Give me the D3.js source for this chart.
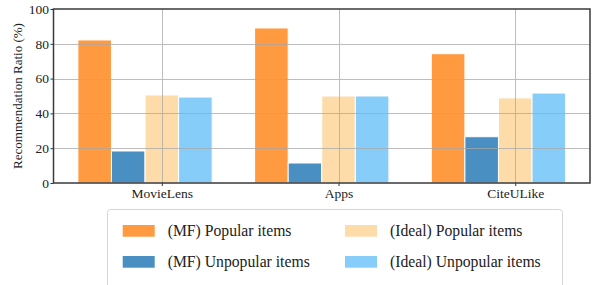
<!DOCTYPE html>
<html>
<head>
<meta charset="utf-8">
<script src="https://cdn.jsdelivr.net/npm/d3@7"></script>
<style>
  body { margin: 0; background: #fff; }
  svg { display: block; }
  svg text { font-family: 'Liberation Serif', serif; }
</style>
</head>
<body>
<div id="container"></div>
<script>
const categories = ['MovieLens', 'Apps', 'CiteULike'];
const seriesNames = ['(MF) Popular items', '(MF) Unpopular items', '(Ideal) Popular items', '(Ideal) Unpopular items'];
const mfPopular = [82.2, 89.1, 74.3];
const mfUnpopular = [18.4, 11.5, 26.6];
const idealPopular = [50.6, 50.0, 48.9];
const idealUnpopular = [49.4, 50.0, 51.7];
const yTicks = [0, 20, 40, 60, 80, 100];

const colors = ['#ff9a40', '#4a8fc2', '#fddcaa', '#87cdf9'];
const series = [mfPopular, mfUnpopular, idealPopular, idealUnpopular];

const w = 600, h = 285;
const padL = 53.5, padR = 590, padT = 9, padB = 183;
const barW = 0.19;
const serif = 'Liberation Serif';

const svg = d3.select('#container').append('svg')
  .attr('width', w).attr('height', h)
  .attr('font-family', serif);

const xScale = d3.scaleLinear().domain([-0.613, 2.423]).range([padL, padR]);
const yScale = d3.scaleLinear().domain([0, 100]).range([padB, padT]);

// bars: offsets -2w, -w, 0, +w (centered)
series.forEach(function(vals, s) {
  svg.append('g').selectAll('rect')
    .data(vals)
    .enter()
    .append('rect')
    .attr('x', function(d, i) { return xScale(i + (s - 2) * barW - barW / 2); })
    .attr('y', function(d) { return yScale(d); })
    .attr('width', xScale(barW) - xScale(0))
    .attr('height', function(d) { return padB - yScale(d); })
    .attr('fill', colors[s])
    .attr('stroke', '#fff')
    .attr('stroke-width', 1);
});

// grid on top
const grid = svg.append('g').attr('stroke', '#a8a8a8').attr('stroke-width', 1).attr('opacity', 0.75);
grid.selectAll('.hg').data(yTicks.slice(1, -1)).enter().append('line')
  .attr('x1', padL).attr('x2', padR)
  .attr('y1', function(d) { return Math.round(yScale(d)) + 0.5; })
  .attr('y2', function(d) { return Math.round(yScale(d)) + 0.5; });
grid.selectAll('.vg').data(categories).enter().append('line')
  .attr('y1', padT).attr('y2', padB)
  .attr('x1', function(d, i) { return Math.round(xScale(i)) + 0.5; })
  .attr('x2', function(d, i) { return Math.round(xScale(i)) + 0.5; });

// axes
const yAxis = d3.axisLeft(yScale).tickValues(yTicks).tickSize(3).tickPadding(1.5);
const gy = svg.append('g').attr('transform', 'translate(' + padL + ',0)').call(yAxis)
  .attr('font-family', serif).attr('font-size', 13.5);
gy.select('.domain').remove();
gy.selectAll('line').attr('stroke', '#333');
gy.selectAll('text').attr('fill', '#222').attr('font-family', serif).attr('font-size', 13.5);

const xAxis = d3.axisBottom(xScale).tickValues([0, 1, 2]).tickFormat(function(d) { return categories[d]; }).tickSize(3).tickPadding(2);
const gx = svg.append('g').attr('transform', 'translate(0,' + padB + ')').call(xAxis)
  .attr('font-family', serif).attr('font-size', 13.5);
gx.select('.domain').remove();
gx.selectAll('line').attr('stroke', '#333');
gx.selectAll('text').attr('fill', '#222').attr('font-family', serif).attr('font-size', 13.5);

svg.append('rect')
  .attr('x', padL).attr('y', padT)
  .attr('width', padR - padL).attr('height', padB - padT)
  .attr('fill', 'none').attr('stroke', '#3a3a3a').attr('stroke-width', 1.5);

svg.append('text')
  .attr('transform', 'translate(22,' + ((padT + padB) / 2) + ') rotate(-90)')
  .attr('text-anchor', 'middle')
  .attr('font-family', serif)
  .attr('font-size', 13)
  .attr('fill', '#222')
  .text('Recommendation Ratio (%)');

// legend
const lg = svg.append('g');
lg.append('rect')
  .attr('x', 107.5).attr('y', 209.5).attr('width', 455).attr('height', 90)
  .attr('rx', 3).attr('fill', '#fff').attr('stroke', '#d6d6d6').attr('stroke-width', 1);
seriesNames.forEach(function(name, s) {
  const col = s >= 2 ? 1 : 0;
  const row = s % 2;
  const px = col ? 345 : 122.7;
  const py = row ? 256 : 225;
  lg.append('rect').attr('x', px).attr('y', py).attr('width', 32).attr('height', 11.7).attr('fill', colors[s]);
  lg.append('text').attr('x', px + 45).attr('y', py + 11.2)
    .attr('font-family', serif)
    .attr('font-size', 15.7).attr('fill', '#222').text(name);
});
</script>
</body>
</html>
